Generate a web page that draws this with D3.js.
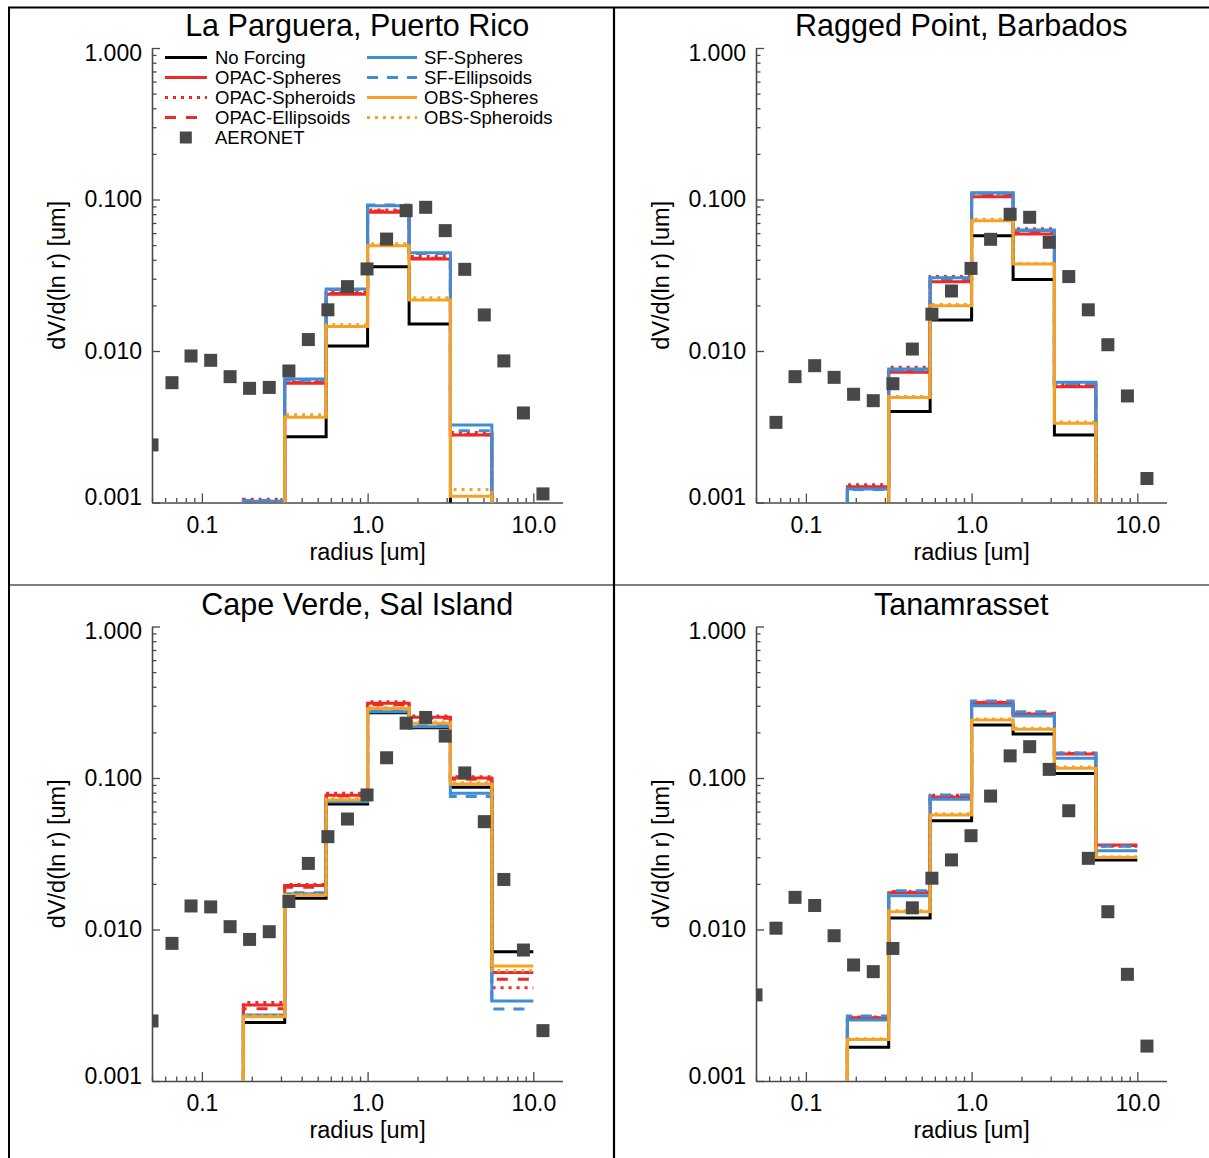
<!DOCTYPE html>
<html>
<head>
<meta charset="utf-8">
<script src="https://cdnjs.cloudflare.com/ajax/libs/d3/7.8.5/d3.min.js"></script>
<style>
  body { margin: 0; background: #fff; }
  text { font-family: "Liberation Sans", Arial, Helvetica, sans-serif; fill: #000; }
</style>
</head>
<body>
<svg id="chart" width="1209" height="1158"></svg>
<script>
// ---- data ----
const siteNames = ["La Parguera, Puerto Rico", "Ragged Point, Barbados", "Cape Verde, Sal Island", "Tanamrasset"];

// model size bins (um); null = below 0.001 (off the plot)
const binEdges = [0.1, 0.178, 0.316, 0.562, 1.0, 1.78, 3.16, 5.62, 10.0];

// one row per site, in siteNames order
const noForcing = [
  [null, null, 0.00272, 0.0108, 0.036, 0.0151, null, null],
  [null, null, 0.00398, 0.016, 0.0577, 0.0297, 0.00279, null],
  [null, 0.00243, 0.0161, 0.0674, 0.27, 0.215, 0.087, 0.00713],
  [null, 0.00167, 0.0119, 0.0523, 0.224, 0.195, 0.107, 0.0288]
];
const opacSpheres = [
  [null, 0.00099, 0.00612, 0.0237, 0.0823, 0.0405, 0.00279, null],
  [null, 0.00127, 0.00723, 0.0287, 0.1044, 0.0592, 0.00581, null],
  [null, 0.00317, 0.0195, 0.077, 0.311, 0.252, 0.1, 0.00521],
  [null, 0.0026, 0.0175, 0.075, 0.31, 0.263, 0.144, 0.0361]
];
const opacSpheroids = [
  [null, 0.00105, 0.0064, 0.0245, 0.0853, 0.042, 0.0029, null],
  [null, 0.00131, 0.0078, 0.031, 0.11, 0.064, 0.006, null],
  [null, 0.0033, 0.0198, 0.0793, 0.319, 0.257, 0.102, 0.00413],
  [null, 0.00265, 0.0178, 0.077, 0.318, 0.268, 0.146, 0.0355]
];
const opacEllipsoids = [
  [null, 0.00101, 0.0062, 0.024, 0.084, 0.041, 0.0028, null],
  [null, 0.00125, 0.0074, 0.0295, 0.107, 0.061, 0.0059, null],
  [null, 0.0030, 0.019, 0.076, 0.305, 0.248, 0.098, 0.00469],
  [null, 0.00262, 0.0176, 0.076, 0.315, 0.265, 0.145, 0.0358]
];
const sfSpheres = [
  [null, 0.00102, 0.00653, 0.0257, 0.091, 0.0445, 0.00325, null],
  [null, 0.00123, 0.0076, 0.0305, 0.111, 0.0629, 0.00621, null],
  [null, 0.00273, 0.0172, 0.0698, 0.274, 0.218, 0.0793, 0.00337],
  [null, 0.00253, 0.0167, 0.0723, 0.3, 0.257, 0.135, 0.0331]
];
const sfEllipsoids = [
  [null, 0.00103, 0.0064, 0.0255, 0.092, 0.044, 0.00298, null],
  [null, 0.00122, 0.0075, 0.0302, 0.11, 0.0625, 0.0061, null],
  [null, 0.0027, 0.0175, 0.071, 0.278, 0.222, 0.0754, 0.00299],
  [null, 0.00269, 0.018, 0.0773, 0.322, 0.274, 0.146, 0.0354]
];
const obsSpheres = [
  [null, null, 0.00365, 0.0145, 0.0496, 0.0217, 0.0011, null],
  [null, null, 0.00494, 0.0199, 0.0724, 0.0375, 0.00333, null],
  [null, 0.00266, 0.0168, 0.0716, 0.288, 0.23, 0.0912, 0.00574],
  [null, 0.00188, 0.0131, 0.057, 0.241, 0.21, 0.116, 0.0299]
];
const obsSpheroids = [
  [null, null, 0.0038, 0.0149, 0.051, 0.0225, 0.00122, null],
  [null, null, 0.005, 0.0203, 0.074, 0.038, 0.0034, null],
  [null, 0.0027, 0.017, 0.073, 0.292, 0.234, 0.093, 0.00535],
  [null, 0.0019, 0.0133, 0.058, 0.245, 0.213, 0.118, 0.0302]
];

const aeronetRadii = [0.050, 0.066, 0.086, 0.113, 0.148, 0.194, 0.255, 0.335, 0.439, 0.576, 0.756,
  0.992, 1.302, 1.708, 2.241, 2.940, 3.857, 5.061, 6.641, 8.713, 11.432, 15.0];
const aeronet = [
  [0.0024, 0.00618, 0.00927, 0.00868, 0.00677, 0.00567, 0.00575, 0.00738, 0.0119, 0.0187, 0.0266,
   0.0348, 0.0548, 0.0844, 0.0888, 0.0623, 0.0346, 0.0173, 0.0086, 0.0039, 0.00114, null],
  [null, 0.00338, 0.00677, 0.008, 0.0067, 0.00518, 0.0047, 0.00608, 0.0103, 0.0175, 0.0249,
   0.0351, 0.0546, 0.0799, 0.0763, 0.0522, 0.031, 0.0187, 0.011, 0.00505, 0.00144, null],
  [0.00249, 0.0081, 0.0143, 0.0141, 0.01044, 0.0086, 0.00967, 0.0153, 0.0273, 0.041, 0.0536,
   0.0773, 0.136, 0.23, 0.251, 0.189, 0.108, 0.0515, 0.0214, 0.00732, 0.00215, null],
  [0.0037, 0.0102, 0.0163, 0.0144, 0.0091, 0.00583, 0.00527, 0.0075, 0.0139, 0.0218, 0.0288,
   0.0416, 0.076, 0.14, 0.161, 0.114, 0.0608, 0.0295, 0.0131, 0.00506, 0.0017, null]
];

const yTicks = [0.001, 0.01, 0.1, 1];
const xTicks = [0.1, 1, 10];

// ---- styles ----
const RED = "#ec2a27", BLUE = "#3f8ed5", ORANGE = "#f6a325", SQUARE = "#484848";
const series = [
  { name: "No Forcing", data: noForcing, color: "#000", dash: null },
  { name: "OPAC-Spheres", data: opacSpheres, color: RED, dash: null },
  { name: "OPAC-Spheroids", data: opacSpheroids, color: RED, dash: "3,5" },
  { name: "OPAC-Ellipsoids", data: opacEllipsoids, color: RED, dash: "11,10" },
  { name: "SF-Spheres", data: sfSpheres, color: BLUE, dash: null },
  { name: "SF-Ellipsoids", data: sfEllipsoids, color: BLUE, dash: "11,9" },
  { name: "OBS-Spheres", data: obsSpheres, color: ORANGE, dash: null },
  { name: "OBS-Spheroids", data: obsSpheroids, color: ORANGE, dash: "3,5" }
];

const svg = d3.select("#chart");
svg.append("rect").attr("width", 1209).attr("height", 1158).attr("fill", "#fff");

// table borders
const borders = svg.append("g").attr("stroke", "#000").attr("fill", "none");
borders.append("line").attr("x1", 8).attr("x2", 1209).attr("y1", 7.5).attr("y2", 7.5).attr("stroke-width", 2);
borders.append("line").attr("x1", 9).attr("x2", 9).attr("y1", 7).attr("y2", 1158).attr("stroke-width", 2);
borders.append("line").attr("x1", 614).attr("x2", 614).attr("y1", 7).attr("y2", 1158).attr("stroke-width", 2.2);
borders.append("line").attr("x1", 8).attr("x2", 1209).attr("y1", 585).attr("y2", 585).attr("stroke-width", 1.2);

const panelLeft = [152, 756, 152, 756];
const panelTop = [48, 48, 626.5, 626.5];
const W = 410.5, H = 454.5;

function minorTicks(lo, hi) {
  const out = [];
  for (let e = -2; e <= 1; e++) {
    for (let m = 1; m <= 9; m++) {
      const v = m * Math.pow(10, e);
      if (v >= lo - 1e-9 && v <= hi + 1e-9) out.push(v);
    }
  }
  return out;
}

siteNames.forEach((site, p) => {
  const g = svg.append("g").attr("transform", `translate(${panelLeft[p]},${panelTop[p]})`);
  const x = d3.scaleLog().domain([0.05, 15]).range([0, W]);
  const y = d3.scaleLog().domain([0.001, 1]).range([H, 0]);

  g.append("clipPath").attr("id", "clip" + p)
    .append("rect").attr("x", 0).attr("y", 0).attr("width", W).attr("height", H);

  // title
  g.append("text").attr("x", W / 2).attr("y", -12).attr("text-anchor", "middle")
    .style("font-size", "30.5px").text(site);

  // axes
  const yMinor = minorTicks(0.001, 1).filter(v => !yTicks.includes(v));
  const xMinor = minorTicks(0.05, 15).filter(v => !xTicks.some(t => Math.abs(t - v) < 1e-9));

  const yAxis = g.append("g").call(d3.axisLeft(y).tickValues(yTicks).tickFormat(d3.format(".3f"))
    .tickSize(-8).tickSizeOuter(0).tickPadding(10));
  g.append("g").call(d3.axisLeft(y).tickValues(yMinor).tickFormat("").tickSize(-4.5).tickSizeOuter(0))
    .select(".domain").remove();
  const xAxis = g.append("g").attr("transform", `translate(0,${H})`)
    .call(d3.axisBottom(x).tickValues(xTicks).tickFormat(d3.format(".1f"))
      .tickSize(-9).tickSizeOuter(0).tickPadding(14));
  g.append("g").attr("transform", `translate(0,${H})`)
    .call(d3.axisBottom(x).tickValues(xMinor).tickFormat("").tickSize(-4.5).tickSizeOuter(0))
    .select(".domain").remove();

  g.selectAll(".domain").attr("stroke", "#4a4a4a").attr("stroke-width", 1.6);
  g.selectAll(".tick line").attr("stroke", "#4a4a4a").attr("stroke-width", 1.3);
  yAxis.selectAll(".tick text").style("font-size", "23px").attr("fill", "#000")
    .attr("y", d => (d === 1 ? 5 : d === 0.001 ? -5 : 0));
  xAxis.selectAll(".tick text").style("font-size", "23px").attr("fill", "#000");

  // axis titles
  g.append("text").attr("transform", `translate(-95,${H / 2}) rotate(-90)`)
    .attr("text-anchor", "middle").attr("dy", "0.35em").style("font-size", "23.5px")
    .text("dV/d(ln r) [um]");
  g.append("text").attr("x", x(1)).attr("y", H + 57).attr("text-anchor", "middle")
    .style("font-size", "23.5px").text("radius [um]");

  // histogram steps
  const plot = g.append("g").attr("clip-path", `url(#clip${p})`);
  const below = H + 20;
  const step = d3.line().curve(d3.curveStepAfter)
    .x(d => x(d[0])).y(d => (d[1] == null ? below : y(d[1])));

  series.forEach(s => {
    const vals = s.data[p];
    const pts = vals.map((v, i) => [binEdges[i], v]);
    pts.push([binEdges[binEdges.length - 1], vals[vals.length - 1]]);
    plot.append("path").attr("d", step(pts)).attr("fill", "none")
      .attr("stroke", s.color).attr("stroke-width", 3)
      .attr("stroke-dasharray", s.dash);
  });

  // AERONET squares
  const sq = 13;
  plot.selectAll("rect.aer")
    .data(aeronetRadii.map((r, i) => [r, aeronet[p][i]]).filter(d => d[1] != null))
    .join("rect").attr("class", "aer")
    .attr("x", d => x(d[0]) - sq / 2).attr("y", d => y(d[1]) - sq / 2)
    .attr("width", sq).attr("height", sq).attr("fill", SQUARE);

  // legend only in first panel
  if (p === 0) {
    const leg = g.append("g");
    const col1 = ["No Forcing", "OPAC-Spheres", "OPAC-Spheroids", "OPAC-Ellipsoids"];
    const col2 = ["SF-Spheres", "SF-Ellipsoids", "OBS-Spheres", "OBS-Spheroids"];
    const rowY = i => 9.5 + 20 * i;
    [[col1, 13, 63], [col2, 215, 272]].forEach(([names, lx, tx]) => {
      names.forEach((n, i) => {
        const s = series.find(d => d.name === n);
        leg.append("line").attr("x1", lx).attr("x2", lx + 50 - (lx === 13 ? 8 : 0))
          .attr("y1", rowY(i)).attr("y2", rowY(i))
          .attr("stroke", s.color).attr("stroke-width", 3).attr("stroke-dasharray", s.dash);
        leg.append("text").attr("x", tx).attr("y", rowY(i)).attr("dy", "0.36em")
          .style("font-size", "18.5px").text(n);
      });
    });
    leg.append("rect").attr("x", 33.8 - 6).attr("y", rowY(4) - 6).attr("width", 12).attr("height", 12)
      .attr("fill", SQUARE);
    leg.append("text").attr("x", 63).attr("y", rowY(4)).attr("dy", "0.36em")
      .style("font-size", "18.5px").text("AERONET");
  }
});
</script>
</body>
</html>
